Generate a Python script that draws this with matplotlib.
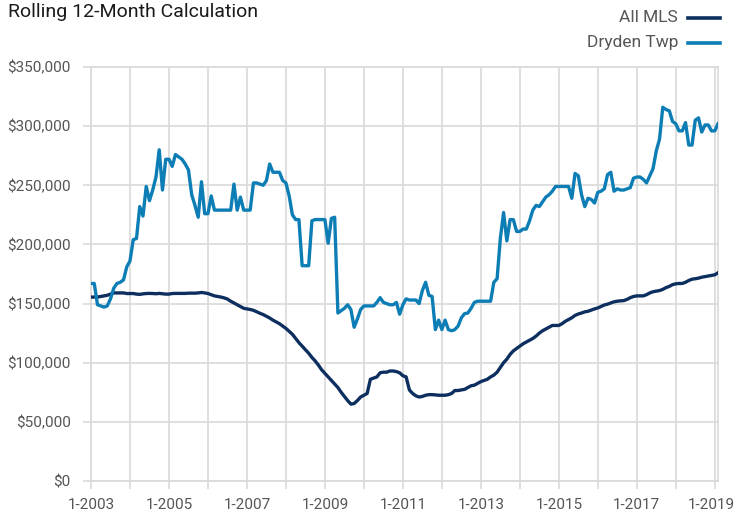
import matplotlib
matplotlib.use("Agg")
import matplotlib.pyplot as plt
from matplotlib.lines import Line2D
from matplotlib.transforms import ScaledTranslation
import numpy as np

# ---- data (monthly, Jan 2003 .. Feb 2019), values in $ thousands ----
start_year = 2003
all_mls = [
    155.5, 155.5, 155.5, 156, 156.5, 157, 158, 159, 159, 159, 159, 158.5,          # 2003
    158.5, 158.5, 158, 157.8, 158.2, 158.5, 158.6, 158.5, 158.3, 158.6, 158.3, 158, # 2004
    158, 158.5, 158.6, 158.6, 158.6, 158.6, 158.8, 158.8, 158.8, 159, 159.4, 159,   # 2005
    158.5, 157.5, 156.5, 156, 155.5, 154.8, 153.8, 152, 150.5, 149, 147.5, 146,     # 2006
    145.5, 145, 144.3, 143, 141.8, 140.7, 139.2, 137.8, 136, 134.5, 133, 131,       # 2007
    129, 126.5, 124, 120.5, 117, 114, 111, 108, 104.5, 101.5, 98, 94,               # 2008
    91, 88, 85, 82, 79, 75, 71.5, 68, 65, 65.5, 68, 71,                             # 2009
    72.5, 74, 86, 87, 88, 91.5, 92, 92, 93, 93, 92.5, 91.5,                         # 2010
    89, 88, 77, 74, 72, 71, 71.5, 72.5, 73, 73, 72.8, 72.5,                         # 2011
    72.5, 72.5, 73, 74, 76.5, 76.5, 77, 77.5, 79, 80.5, 81, 82.5,                   # 2012
    84, 85, 86, 88, 89.5, 92, 96, 100, 103, 107, 110, 112,                          # 2013
    114, 116, 117.5, 119, 120.5, 122.5, 125, 127, 128.5, 130, 131.5, 131.5,         # 2014
    131.5, 133, 135, 136.5, 138, 140, 141.2, 142, 143, 143.5, 144.5, 145.5,         # 2015
    146.3, 147.5, 148.8, 149.5, 150.5, 151.5, 152, 152.3, 152.5, 153.5, 155, 156,   # 2016
    156.5, 156.5, 156.5, 157.5, 159, 160, 160.5, 161, 162, 163.5, 164.5, 166,       # 2017
    166.7, 167, 167, 168, 169.5, 170.6, 171, 171.5, 172.3, 172.8, 173.3, 173.8,     # 2018
    174.3, 176,                                                                     # 2019
]
dryden = [
    167, 167, 149, 148, 147, 148, 154, 163, 167, 168, 170, 181,                     # 2003
    186, 204, 205, 232, 224, 249, 237, 246, 257, 280, 246, 272,                     # 2004
    272, 266, 276, 274, 272, 268, 263, 242, 233, 223, 253, 226,                     # 2005
    226, 241, 229, 229, 229, 229, 229, 229, 251, 229, 240, 229,                     # 2006
    229, 229, 252, 252, 251, 250, 254, 268, 261, 261, 261, 254,                     # 2007
    252, 241, 225, 221, 221, 182, 182, 182, 220, 221, 221, 221,                     # 2008
    221, 201, 222, 223, 142, 144, 146, 149, 145, 130, 137, 145,                     # 2009
    148, 148, 148, 148, 151, 155, 151, 150, 149, 149, 151, 141,                     # 2010
    149, 154, 153, 153, 153, 150, 161, 168, 157, 156, 128, 136,                     # 2011
    128, 136, 128, 127, 128, 131, 138, 141.5, 142, 146, 151, 152,                   # 2012
    152, 152, 152, 152, 168, 171, 205, 227, 203, 221, 221, 211,                     # 2013
    211, 213, 213, 220, 229, 233, 232, 236, 240, 242, 245, 249,                     # 2014
    249, 249, 249, 249, 239, 260, 258, 242, 232, 239, 238, 235,                     # 2015
    244, 245, 247, 259, 261, 245, 247, 246, 246, 247, 248, 256,                     # 2016
    257, 257, 255, 252, 258, 264, 279, 289, 316, 314, 313, 304,                     # 2017
    302, 296, 296, 303, 284, 284, 305, 307, 295, 301, 301, 296,                     # 2018
    296, 302,                                                                       # 2019
]
series_names = ["All MLS", "Dryden Twp"]
y_ticks = [0, 50000, 100000, 150000, 200000, 250000, 300000, 350000]
label_years = list(range(2003, 2020, 2))

navy = "#0d2f5f"
blue = "#0c7db5"
grid_c = "#d9d9d9"
text_c = "#555555"
FONT = ["Roboto", "DejaVu Sans"]

plt.rcParams["font.family"] = FONT

fig = plt.figure(figsize=(7.36, 5.15), dpi=100)
W, H = 736, 515
ax = fig.add_axes([91 / W, 1 - 481 / H, (718 - 91) / W, (481 - 67) / H])

months = np.arange(len(all_mls))
ax.plot(months, np.array(all_mls) * 1000, color=navy, lw=2.4, solid_joinstyle="round", zorder=3)
ax.plot(months, np.array(dryden) * 1000, color=blue, lw=2.4, solid_joinstyle="round", zorder=3)

ax.set_xlim(0, len(all_mls) - 1)
ax.set_ylim(0, 350000)

year_ticks = np.arange(0, len(all_mls), 12)
ax.set_xticks(year_ticks)
ax.set_xticklabels([f"1-{start_year + i}" if (start_year + i) in label_years else "" for i in range(len(year_ticks))])
ax.set_yticks(y_ticks)
ax.set_yticklabels(["$0"] + [f"${v:,.0f}" for v in y_ticks[1:]])

ax.grid(True, color=grid_c, lw=1.2, zorder=0)
for s in ax.spines.values():
    s.set_color(grid_c)
    s.set_linewidth(1.2)
ax.tick_params(axis="both", colors=grid_c, width=1.2, length=6, labelcolor=text_c, labelsize=11)
ax.tick_params(axis="x", pad=6)
ax.tick_params(axis="y", pad=8.5)

# keep the last x label inside the canvas
last = ax.get_xticklabels()[-1]
last.set_transform(last.get_transform() + ScaledTranslation(-3 / 100, 0, fig.dpi_scale_trans))

fig.text(8 / W, 1 - 12 / H, "Rolling 12-Month Calculation", fontsize=14, color="#1a1a1a",
         ha="left", va="center")

# legend (right aligned, text left of line sample)
for i, (name, col) in enumerate(zip(series_names, [navy, blue])):
    yy = 1 - (18 + i * 25) / H
    fig.text(678 / W, yy, name, fontsize=12.5, color=text_c, ha="right", va="center")
    fig.add_artist(Line2D([688 / W, 720 / W], [yy, yy], color=col, lw=2.6, transform=fig.transFigure))

fig.savefig("out.png", dpi=100)
